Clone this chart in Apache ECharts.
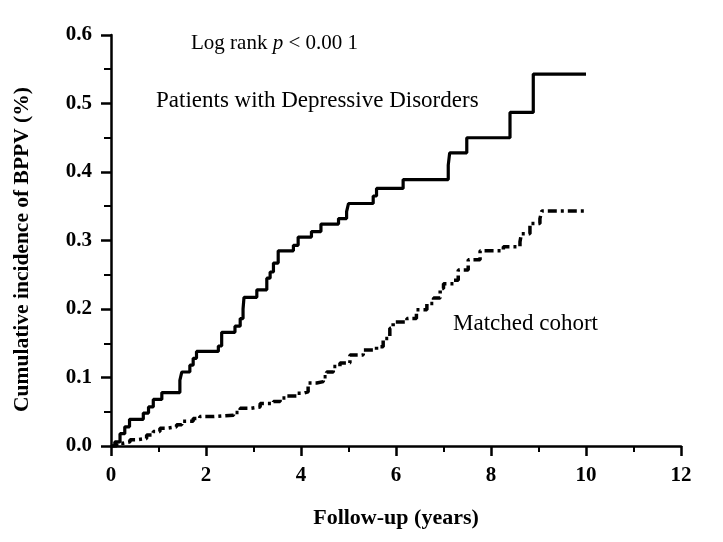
<!DOCTYPE html>
<html>
<head>
<meta charset="utf-8">
<script src="https://cdn.jsdelivr.net/npm/echarts@6/dist/echarts.min.js"></script>
<style>html,body{margin:0;padding:0;background:#fff;}#c{width:723px;height:542px;}</style>
</head>
<body>
<div id="c"></div>
<script>
// Patients with Depressive Disorders (step jump times and cumulative incidence after jump)
var depTimes  = [0, 0.08, 0.19, 0.29, 0.39, 0.68, 0.79, 0.89, 1.07, 1.45, 1.49, 1.66, 1.73, 1.80, 2.26, 2.33, 2.61, 2.72, 2.78, 2.80, 3.07, 3.28, 3.35, 3.42, 3.52, 3.84, 3.94, 4.22, 4.42, 4.79, 4.96, 5.00, 5.52, 5.59, 6.15, 7.10, 7.13, 7.49, 8.40, 8.89, 10.0];
var depValues = [0, 0.006, 0.018, 0.028, 0.039, 0.048, 0.057, 0.068, 0.078, 0.096, 0.108, 0.118, 0.128, 0.138, 0.146, 0.166, 0.175, 0.186, 0.200, 0.217, 0.228, 0.245, 0.254, 0.267, 0.285, 0.293, 0.305, 0.313, 0.324, 0.332, 0.342, 0.354, 0.365, 0.376, 0.389, 0.410, 0.428, 0.450, 0.487, 0.543, 0.543];
// Matched cohort
var matTimes  = [0, 0.12, 0.26, 0.40, 0.54, 0.75, 0.89, 1.03, 1.17, 1.38, 1.49, 1.73, 1.87, 2.15, 2.58, 2.72, 2.93, 3.14, 3.42, 3.56, 3.70, 3.91, 4.05, 4.15, 4.33, 4.47, 4.54, 4.68, 4.82, 5.03, 5.31, 5.59, 5.73, 5.87, 5.94, 6.23, 6.43, 6.65, 6.79, 6.93, 7.00, 7.21, 7.31, 7.52, 7.77, 8.26, 8.61, 8.64, 8.82, 9.03, 9.07, 10.0];
var matValues = [0, 0.004, 0.006, 0.009, 0.011, 0.016, 0.021, 0.026, 0.028, 0.031, 0.036, 0.040, 0.043, 0.045, 0.049, 0.055, 0.057, 0.062, 0.065, 0.070, 0.073, 0.077, 0.079, 0.092, 0.094, 0.101, 0.108, 0.116, 0.121, 0.133, 0.140, 0.145, 0.157, 0.172, 0.181, 0.186, 0.199, 0.208, 0.216, 0.230, 0.237, 0.242, 0.257, 0.272, 0.285, 0.291, 0.298, 0.310, 0.325, 0.332, 0.343, 0.343];

var xLabel = 'Follow-up (years)';
var yLabel = 'Cumulative incidence of BPPV (%)';
var labelDep = 'Patients with Depressive Disorders';
var labelMat = 'Matched cohort';

function pairs(t, v) { return t.map(function (x, i) { return [x, v[i]]; }); }

var serif = '"Liberation Serif", "DejaVu Serif", serif';
var chart = echarts.init(document.getElementById('c'));
chart.setOption({
  backgroundColor: '#fff',
  animation: false,
  grid: { left: 111, right: 42, top: 35, bottom: 96 },
  xAxis: {
    type: 'value', min: 0, max: 12, interval: 2,
    name: xLabel, nameLocation: 'middle', nameGap: 61,
    nameTextStyle: { fontFamily: serif, fontWeight: 'bold', fontSize: 22, color: '#000' },
    axisLine: { onZero: false, lineStyle: { color: '#000', width: 2.5 } },
    axisTick: { show: true, length: 10, lineStyle: { color: '#000', width: 2.5 } },
    minorTick: { show: true, splitNumber: 2, length: 6, lineStyle: { color: '#000', width: 2 } },
    axisLabel: { fontFamily: serif, fontWeight: 'bold', fontSize: 21, color: '#000', margin: 19 },
    splitLine: { show: false }
  },
  yAxis: {
    type: 'value', min: 0, max: 0.6, interval: 0.1,
    name: yLabel, nameLocation: 'middle', nameGap: 78,
    nameTextStyle: { fontFamily: serif, fontWeight: 'bold', fontSize: 21.5, color: '#000', padding: [0, 18, 0, 0] },
    axisLine: { show: true, lineStyle: { color: '#000', width: 2.5 } },
    axisTick: { show: true, length: 10, lineStyle: { color: '#000', width: 2.5 } },
    minorTick: { show: true, splitNumber: 2, length: 7, lineStyle: { color: '#000', width: 2 } },
    axisLabel: { fontFamily: serif, fontWeight: 'bold', fontSize: 21, color: '#000', margin: 19,
      formatter: function (v) { return v.toFixed(1); } },
    splitLine: { show: false }
  },
  series: [
    { type: 'line', name: labelDep, step: 'end', symbol: 'none', data: pairs(depTimes, depValues),
      lineStyle: { color: '#000', width: 3.2, type: 'solid' } },
    { type: 'line', name: labelMat, step: 'end', symbol: 'none', data: pairs(matTimes, matValues),
      lineStyle: { color: '#000', width: 3.5, type: [9, 4, 3, 4] } }
  ],
  graphic: [
    { type: 'text', left: 191, top: 33, style: {
        rich: {
          n: { fontFamily: serif, fontSize: 21, fill: '#000' },
          i: { fontFamily: serif, fontSize: 21, fontStyle: 'italic', fill: '#000' }
        },
        text: '{n|Log rank }{i|p}{n| < 0.00 1}' } },
    { type: 'text', left: 156, top: 89, style: { text: labelDep, fontFamily: serif, fontSize: 23, fill: '#000' } },
    { type: 'text', left: 453, top: 312, style: { text: labelMat, fontFamily: serif, fontSize: 23, fill: '#000' } }
  ]
});
</script>
</body>
</html>
